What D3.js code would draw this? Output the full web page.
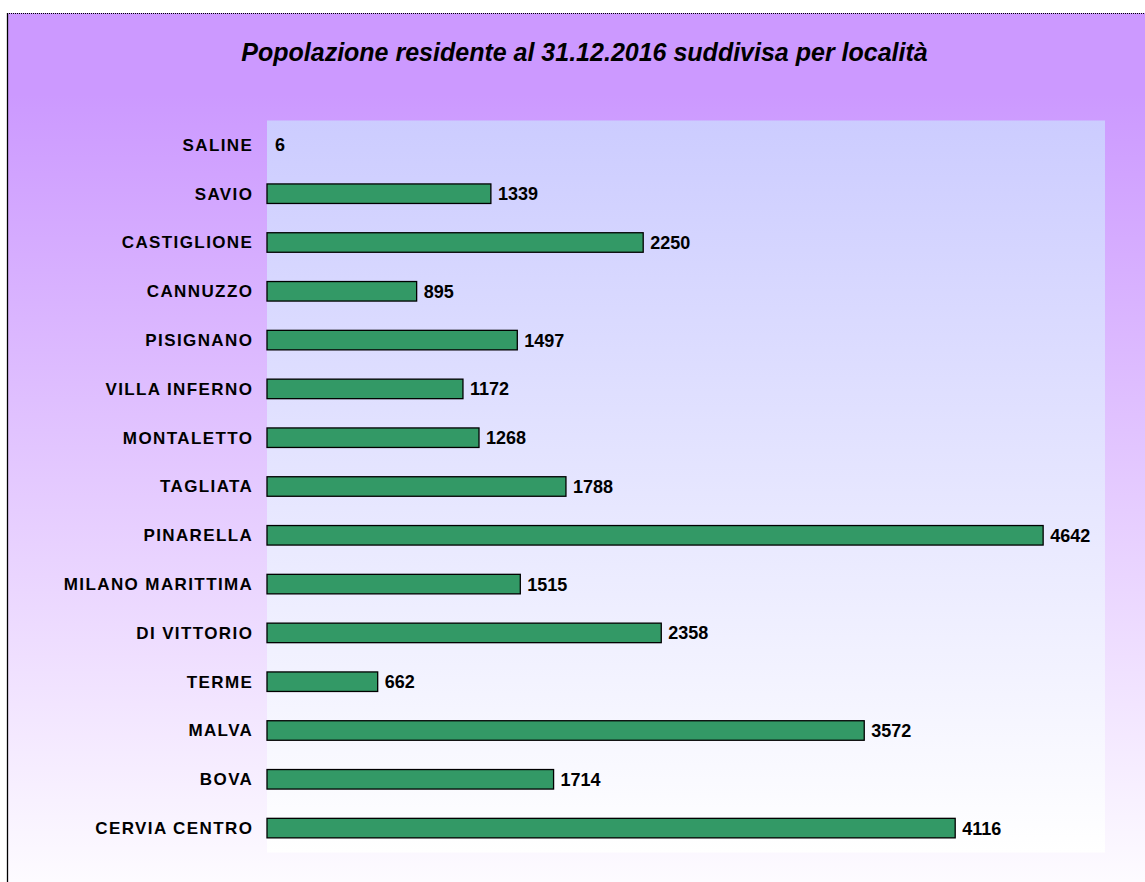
<!DOCTYPE html>
<html>
<head>
<meta charset="utf-8">
<script src="https://cdn.jsdelivr.net/npm/d3@7"></script>
<style>
  html, body { margin: 0; padding: 0; background: #fff; }
  svg { display: block; font-family: "Liberation Sans", Arial, sans-serif; }
</style>
</head>
<body>
<svg></svg>
<script>
// popolazione residente per località — barre orizzontali

const localita = ["SALINE", "SAVIO", "CASTIGLIONE", "CANNUZZO", "PISIGNANO",
  "VILLA INFERNO", "MONTALETTO", "TAGLIATA", "PINARELLA", "MILANO MARITTIMA",
  "DI VITTORIO", "TERME", "MALVA", "BOVA", "CERVIA CENTRO"];
const residenti = [6, 1339, 2250, 895, 1497, 1172, 1268, 1788, 4642, 1515,
  2358, 662, 3572, 1714, 4116];
const titolo = "Popolazione residente al 31.12.2016 suddivisa per località";

const width = 1145;
const height = 882;

const chart = { x: 7, y: 13, w: 1155, h: 900 };
const plot = { x: 267, y: 120.5, w: 838, h: 732 };

const svg = d3.select("svg")
  .attr("width", width)
  .attr("height", height);

const defs = svg.append("defs");

const gOuter = defs.append("linearGradient")
  .attr("id", "bg-outer")
  .attr("x1", 0).attr("y1", 0).attr("x2", 0).attr("y2", 1);
gOuter.append("stop").attr("offset", "0%").attr("stop-color", "#CC99FF");
gOuter.append("stop").attr("offset", "9%").attr("stop-color", "#CC99FF");
gOuter.append("stop").attr("offset", "100%").attr("stop-color", "#FFFFFF");

const gPlot = defs.append("linearGradient")
  .attr("id", "bg-plot")
  .attr("x1", 0).attr("y1", 0).attr("x2", 0).attr("y2", 1);
gPlot.append("stop").attr("offset", "0%").attr("stop-color", "#CCCCFF");
gPlot.append("stop").attr("offset", "100%").attr("stop-color", "#FFFFFF");

// sfondo area grafico
svg.append("rect")
  .attr("x", chart.x).attr("y", chart.y)
  .attr("width", chart.w).attr("height", chart.h)
  .attr("fill", "url(#bg-outer)");

svg.append("line")
  .attr("x1", chart.x + 0.5).attr("x2", chart.x + 0.5)
  .attr("y1", chart.y).attr("y2", chart.y + chart.h)
  .attr("stroke", "#000").attr("stroke-width", 1.3);

svg.append("line")
  .attr("x1", chart.x).attr("x2", chart.x + chart.w)
  .attr("y1", chart.y + 0.5).attr("y2", chart.y + 0.5)
  .attr("stroke", "#000").attr("stroke-width", 1)
  .attr("stroke-dasharray", "1,1");

// area del tracciato
svg.append("rect")
  .attr("x", plot.x).attr("y", plot.y)
  .attr("width", plot.w).attr("height", plot.h)
  .attr("fill", "url(#bg-plot)");

svg.append("text")
  .attr("x", 584.5)
  .attr("y", 61)
  .attr("text-anchor", "middle")
  .attr("font-size", 25)
  .attr("font-weight", "bold")
  .attr("font-style", "italic")
  .attr("fill", "#000")
  .text(titolo);

const x = d3.scaleLinear()
  .domain([0, 5000])
  .range([plot.x, plot.x + plot.w - 2]);

const y = d3.scaleBand()
  .domain(localita)
  .range([plot.y, plot.y + plot.h])
  .paddingInner(0.6)
  .paddingOuter(0.3);

const data = localita.map((d, i) => ({ nome: d, valore: residenti[i] }));

// le barre troppo sottili non hanno bordo (come in Excel)
svg.append("g")
  .selectAll("rect")
  .data(data)
  .join("rect")
  .attr("x", x(0))
  .attr("y", d => y(d.nome))
  .attr("width", d => x(d.valore) - x(0))
  .attr("height", y.bandwidth())
  .attr("fill", "#339966")
  .attr("fill-opacity", d => x(d.valore) - x(0) < 2 ? 0 : 1)
  .attr("stroke", d => x(d.valore) - x(0) < 2 ? "none" : "#000")
  .attr("stroke-width", 1.3);

// etichette categorie
svg.append("g")
  .selectAll("text")
  .data(data)
  .join("text")
  .attr("x", 253.3)
  .attr("y", d => y(d.nome) + y.bandwidth() / 2)
  .attr("dy", "0.35em")
  .attr("text-anchor", "end")
  .attr("font-size", 17)
  .attr("font-weight", "bold")
  .attr("letter-spacing", 1.4)
  .attr("fill", "#000")
  .text(d => d.nome);

// valori
svg.append("g")
  .selectAll("text")
  .data(data)
  .join("text")
  .attr("x", d => x(d.valore) + 7)
  .attr("y", d => y(d.nome) + y.bandwidth() / 2)
  .attr("dy", "0.36em")
  .attr("font-size", 18)
  .attr("font-weight", "bold")
  .attr("fill", "#000")
  .text(d => d.valore);
</script>
</body>
</html>
